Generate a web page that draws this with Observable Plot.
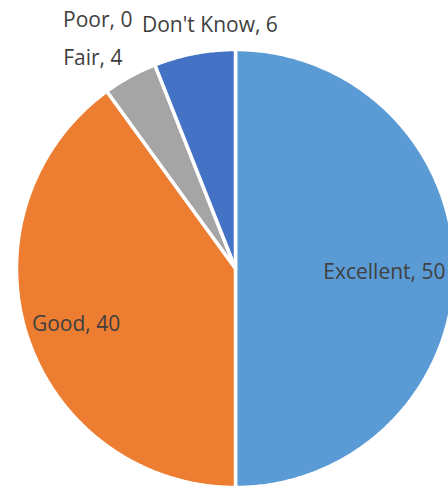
<!DOCTYPE html>
<html><head><meta charset="utf-8">
<script src="https://cdn.jsdelivr.net/npm/d3@7"></script>
<script src="https://cdn.jsdelivr.net/npm/@observablehq/plot@0.6"></script>
<style>html,body{margin:0;padding:0;overflow:hidden;background:#fff}</style>
</head><body><div id="chart"></div>
<script>
// ---- data ----
const categories = ["Excellent", "Good", "Fair", "Poor", "Don't Know"];
const values = [50, 40, 4, 0, 6];
const colors = ["#5B9BD5", "#ED7D31", "#A5A5A5", "#FFC000", "#4472C4"];

// ---- label layout (angle in degrees clockwise from top, radius in pie radii) ----
const labelAngle = [91.5, 250.6, 325.8, 331, 354];
const labelRadius = [0.68, 0.772, 1.159, 1.297, 1.118];

const rows = categories.map((c, i) => ({category: c, value: values[i], color: colors[i]}));
const arcs = d3.pie().sort(null).value(d => d.value)(rows);

const sliceMarks = [];
for (const a of arcs) {
  const span = a.endAngle - a.startAngle;
  if (span <= 0) continue;
  const n = Math.max(2, Math.ceil(span / (Math.PI / 360)));
  const pts = [{x: 0, y: 0}];
  for (let k = 0; k <= n; k++) {
    const t = a.startAngle + span * k / n;
    pts.push({x: Math.sin(t), y: Math.cos(t)});
  }
  pts.push({x: 0, y: 0});
  sliceMarks.push(Plot.line(pts, {x: "x", y: "y", fill: a.data.color, stroke: "white", strokeWidth: 3.5, strokeLinejoin: "miter", curve: "linear-closed"}));
}

const labels = rows.map((d, i) => {
  const t = labelAngle[i] * Math.PI / 180;
  return {text: `${d.category}, ${d.value}`, x: labelRadius[i] * Math.sin(t), y: labelRadius[i] * Math.cos(t)};
});

const W = 448, H = 487, cx = 235, cy = 268, R = 219;
const chart = Plot.plot({
  width: W, height: H, margin: 0,
  style: {background: "white", overflow: "hidden"},
  x: {domain: [-cx / R, (W - cx) / R], range: [0, W], axis: null},
  y: {domain: [(cy - H) / R, cy / R], range: [H, 0], axis: null},
  marks: [
    ...sliceMarks,
    Plot.text(labels, {x: "x", y: "y", text: "text", fontSize: 21, fill: "#404040", fontFamily: "Open Sans", textAnchor: "middle", lineAnchor: "middle"})
  ]
});
document.getElementById("chart").appendChild(chart);
</script>
</body></html>
